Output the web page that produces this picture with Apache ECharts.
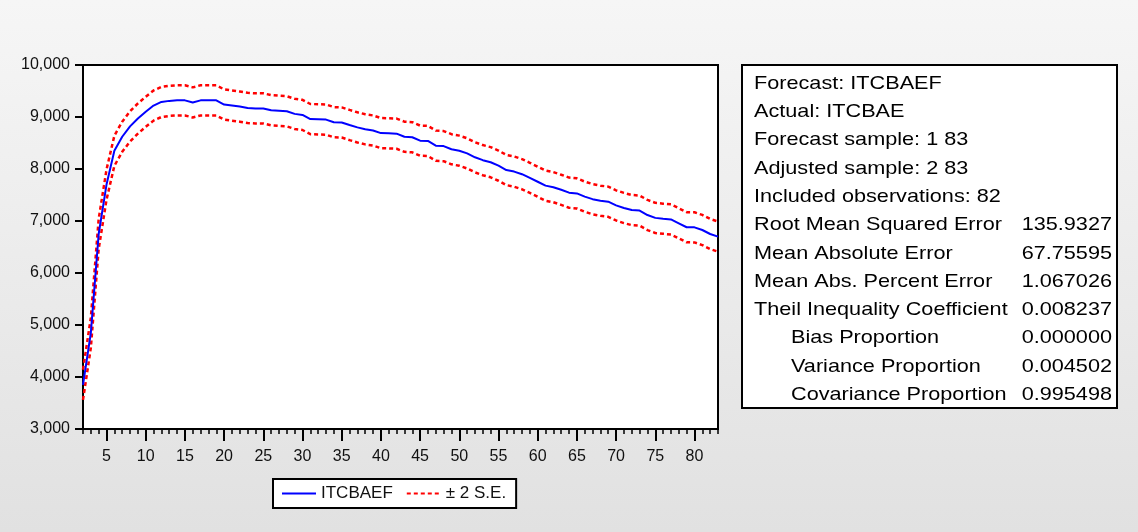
<!DOCTYPE html>
<html>
<head>
<meta charset="utf-8">
<script src="https://cdn.jsdelivr.net/npm/echarts@6/dist/echarts.min.js"></script>
<style>
html,body{margin:0;padding:0;}
#chart{width:1138px;height:532px;}
</style>
</head>
<body>
<div id="chart"></div>
<script>
var categories = ["2","3","4","5","6","7","8","9","10","11","12","13","14","15","16","17","18","19","20","21","22","23","24","25","26","27","28","29","30","31","32","33","34","35","36","37","38","39","40","41","42","43","44","45","46","47","48","49","50","51","52","53","54","55","56","57","58","59","60","61","62","63","64","65","66","67","68","69","70","71","72","73","74","75","76","77","78","79","80","81","82","83"];

var forecast = [3850,4850,6750,7700,8350,8620,8820,8970,9100,9220,9290,9310,9320,9320,9280,9320,9320,9320,9240,9220,9200,9175,9165,9165,9130,9120,9110,9060,9040,8960,8955,8950,8900,8895,8846,8800,8763,8740,8690,8686,8680,8620,8610,8545,8540,8448,8440,8380,8352,8300,8225,8170,8130,8064,7980,7950,7900,7830,7755,7680,7650,7600,7545,7530,7468,7420,7390,7371,7300,7250,7211,7200,7115,7060,7044,7030,6955,6880,6878,6827,6750,6700];

var upperBand = [4140,5140,7040,7990,8640,8910,9110,9260,9390,9510,9580,9600,9610,9610,9570,9610,9610,9610,9530,9510,9490,9465,9455,9455,9420,9410,9400,9350,9330,9250,9245,9240,9190,9185,9136,9090,9053,9030,8980,8976,8970,8910,8900,8835,8830,8738,8730,8670,8642,8590,8515,8460,8420,8354,8270,8240,8190,8120,8045,7970,7940,7890,7835,7820,7758,7710,7680,7661,7590,7540,7501,7490,7405,7350,7334,7320,7245,7170,7168,7117,7040,6990];

var lowerBand = [3560,4560,6460,7410,8060,8330,8530,8680,8810,8930,9000,9020,9030,9030,8990,9030,9030,9030,8950,8930,8910,8885,8875,8875,8840,8830,8820,8770,8750,8670,8665,8660,8610,8605,8556,8510,8473,8450,8400,8396,8390,8330,8320,8255,8250,8158,8150,8090,8062,8010,7935,7880,7840,7774,7690,7660,7610,7540,7465,7390,7360,7310,7255,7240,7178,7130,7100,7081,7010,6960,6921,6910,6825,6770,6754,6740,6665,6590,6588,6537,6460,6410];

var statLabels = ["Forecast: ITCBAEF","Actual: ITCBAE","Forecast sample: 1 83","Adjusted sample: 2 83","Included observations: 82","Root Mean Squared Error","Mean Absolute Error","Mean Abs. Percent Error","Theil Inequality Coefficient","Bias Proportion","Variance Proportion","Covariance Proportion"];
var statValues = ["","","","","","135.9327","67.75595","1.067026","0.008237","0.000000","0.004502","0.995498"];
var statIndented = [false,false,false,false,false,false,false,false,false,true,true,true];

var seriesNames = ["ITCBAEF","\u00b1 2 S.E."];

var FONT = '"Liberation Sans", Arial, sans-serif';

var chart = echarts.init(document.getElementById('chart'), null, {renderer:'canvas'});

var graphics = [{
  type:'rect', z:0,
  shape:{x:742, y:65, width:375, height:343},
  style:{fill:'#ffffff', stroke:'#000000', lineWidth:2}
}];
for (var i = 0; i < statLabels.length; i++) {
  var yy = 83.5 + i * 28.3;
  graphics.push({
    type:'text', z:1,
    x: statIndented[i] ? 791 : 754, y: yy, scaleX:1.14,
    style:{text:statLabels[i], font:'19px ' + FONT, fill:'#000', textAlign:'left', textVerticalAlign:'middle'}
  });
  if (statValues[i]) {
    graphics.push({
      type:'text', z:1,
      x:1112, y: yy, scaleX:1.14,
      style:{text:statValues[i], font:'19px ' + FONT, fill:'#000', textAlign:'right', textVerticalAlign:'middle'}
    });
  }
}

function isMajor(idx, val) { return Number(val) % 5 === 0; }

var option = {
  animation:false,
  backgroundColor:{type:'linear', x:0, y:0, x2:0, y2:1, colorStops:[{offset:0, color:'#f6f6f6'},{offset:1, color:'#e1e1e1'}]},
  textStyle:{fontFamily:FONT},
  grid:{left:83, right:420, top:65, bottom:103, show:true, backgroundColor:'#ffffff', borderColor:'#000000', borderWidth:2, containLabel:false},
  legend:{
    data:seriesNames,
    left:273, top:479, orient:'horizontal',
    backgroundColor:'#ffffff', borderColor:'#000000', borderWidth:2, borderRadius:0,
    padding:[6,10,6,8], itemWidth:34, itemHeight:14, itemGap:13,
    itemStyle:{opacity:0},
    textStyle:{fontSize:17, color:'#111', fontFamily:FONT},
    selectedMode:false
  },
  xAxis:[{
    type:'category', data:categories, boundaryGap:false, position:'bottom',
    axisLine:{show:true, lineStyle:{color:'#000', width:2}},
    axisTick:{show:true, interval:0, length:5, inside:false, lineStyle:{color:'#000', width:1.5}},
    axisLabel:{show:false},
    splitLine:{show:false}
  },{
    type:'category', data:categories, boundaryGap:false, position:'bottom',
    axisLine:{show:false},
    axisTick:{show:true, interval:isMajor, length:12, inside:false, lineStyle:{color:'#000', width:2}},
    axisLabel:{show:true, interval:isMajor, margin:20, fontSize:16, color:'#111', fontFamily:FONT},
    splitLine:{show:false}
  }],
  yAxis:{
    type:'value', min:3000, max:10000, interval:1000,
    axisLine:{show:true, lineStyle:{color:'#000', width:2}},
    axisTick:{show:true, length:8, inside:false, lineStyle:{color:'#000', width:2}},
    axisLabel:{margin:13, fontSize:16, color:'#111', fontFamily:FONT,
      formatter:function(v){ return String(v).replace(/\B(?=(\d{3})+(?!\d))/g, ','); }},
    splitLine:{show:false}
  },
  series:[{
    name:seriesNames[0], type:'line', data:forecast, xAxisIndex:0, symbol:'none', z:3,
    lineStyle:{color:'#0000ff', width:2}, itemStyle:{color:'#0000ff'}
  },{
    name:seriesNames[1], type:'line', data:upperBand, xAxisIndex:0, symbol:'none', z:2,
    lineStyle:{color:'#ff0000', width:2.5, type:[4,3]}, itemStyle:{color:'#ff0000'}
  },{
    name:seriesNames[1], type:'line', data:lowerBand, xAxisIndex:0, symbol:'none', z:2,
    lineStyle:{color:'#ff0000', width:2.5, type:[4,3]}, itemStyle:{color:'#ff0000'}
  }],
  graphic:graphics
};
chart.setOption(option);
</script>
</body>
</html>
